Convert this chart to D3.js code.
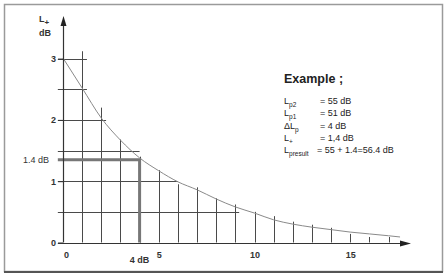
<!DOCTYPE html>
<html>
<head>
<meta charset="utf-8">
<script src="https://cdn.jsdelivr.net/npm/d3@7"></script>
<style>
  body { margin: 0; background: #fff; }
  svg { display: block; font-family: "Liberation Sans", Arial, sans-serif; }
</style>
</head>
<body>
<div id="chart"></div>
<script>
const WIDTH = 446;
const HEIGHT = 276;

// curve L+ (dB), at dL = 0..17 dB
const dL = [0, 1, 2, 3, 4, 5, 6, 7, 8, 9, 10, 11, 12, 13, 14, 15, 16, 17, 17.6];
const lPlus = [3.01, 2.52, 2.03, 1.67, 1.38, 1.17, 0.99, 0.86, 0.71, 0.58, 0.48, 0.37, 0.30, 0.25, 0.21, 0.17, 0.14, 0.11, 0.09];

// vertical grid lines (x) and where each one stops (y)
const vX = [1, 2, 3, 4, 5, 6, 7, 8, 9, 10, 11, 12, 13, 14, 15, 16, 17];
const vTop = [3.12, 2.2, 1.68, 1.4, 1.18, 0.95, 0.9, 0.72, 0.62, 0.5, 0.43, 0.34, 0.29, 0.24, 0.14, 0.09, 0.09];

// horizontal grid lines (y) and where each one stops (x)
const hY = [3, 2.5, 2, 1.5, 1, 0.5];
const hEnd = [1.25, 1.25, 2.25, 4, 6, 9.2];

const xTicks = [0, 5, 10, 15];
const yTicks = [0, 1, 2, 3];

// example readout
const markX = 4;
const markY = 1.35;
const exampleRows = [
  ["L", "p2", "= 55 dB"],
  ["L", "p1", "= 51 dB"],
  ["\u0394L", "p", "= 4 dB"],
  ["L", "+", "= 1,4 dB"],
  ["L", "presult", "= 55 + 1.4=56.4 dB"]
];

const svg = d3.select("#chart").append("svg")
    .attr("width", WIDTH)
    .attr("height", HEIGHT);

// frame
svg.append("rect")
    .attr("x", 4.5).attr("y", 4.5)
    .attr("width", 438).attr("height", 267)
    .attr("fill", "#fff")
    .attr("stroke", "#9a9a9a")
    .attr("stroke-width", 1.5);
svg.append("line")
    .attr("x1", 4).attr("x2", 443)
    .attr("y1", 272).attr("y2", 272)
    .attr("stroke", "#555").attr("stroke-width", 2);

const X_SCALE = d3.scaleLinear().domain([0, 18]).range([63, 63 + 18 * 19.15]);
const Y_SCALE = d3.scaleLinear().domain([0, 3]).range([242.5, 58.6]);

const grid = svg.append("g").attr("stroke", "#4a4a4a").attr("stroke-width", 1);

// horizontal grid
grid.selectAll(".h")
    .data(hY)
    .enter()
    .append("line")
      .attr("x1", X_SCALE(-0.27))
      .attr("x2", (d, i) => X_SCALE(hEnd[i]))
      .attr("y1", d => Math.round(Y_SCALE(d)) + 0.5)
      .attr("y2", d => Math.round(Y_SCALE(d)) + 0.5);

// vertical grid
grid.selectAll(".v")
    .data(vX)
    .enter()
    .append("line")
      .attr("x1", d => Math.round(X_SCALE(d)) + 0.5)
      .attr("x2", d => Math.round(X_SCALE(d)) + 0.5)
      .attr("y1", Y_SCALE(0))
      .attr("y2", (d, i) => Y_SCALE(vTop[i]));

// the curve
const line = d3.line()
    .x((d, i) => X_SCALE(dL[i]))
    .y(d => Y_SCALE(d))
    .curve(d3.curveMonotoneX);
svg.append("path")
    .datum(lPlus)
    .attr("d", line)
    .attr("fill", "none")
    .attr("stroke", "#8a8a8a")
    .attr("stroke-width", 1);

// 1.4 dB / 4 dB readout
svg.append("path")
    .attr("d", "M" + X_SCALE(-0.27) + "," + Y_SCALE(markY)
      + "H" + X_SCALE(markX) + "V" + Y_SCALE(0))
    .attr("fill", "none")
    .attr("stroke", "#777")
    .attr("stroke-width", 3);

// axes
const axisY = svg.append("g")
    .attr("transform", "translate(" + X_SCALE(0) + ",0)")
    .call(d3.axisLeft(Y_SCALE).tickValues(yTicks).tickSize(5).tickPadding(2).tickFormat(d3.format("d")));
const axisX = svg.append("g")
    .attr("transform", "translate(0," + Y_SCALE(0) + ")")
    .call(d3.axisBottom(X_SCALE).tickValues(xTicks).tickSize(0).tickPadding(9).tickFormat(d3.format("d")));
[axisY, axisX].forEach(a => {
  a.select(".domain").remove();
  a.selectAll("line").attr("stroke", "#333");
  a.selectAll("text")
      .attr("font-family", "Liberation Sans, Arial, sans-serif")
      .attr("font-size", 9)
      .attr("font-weight", "bold")
      .attr("fill", "#333");
});
axisX.selectAll(".tick text").filter(d => d === 0).attr("dx", 3);

svg.append("line")
    .attr("x1", X_SCALE(0) + 0.5).attr("x2", X_SCALE(0) + 0.5)
    .attr("y1", Y_SCALE(0)).attr("y2", 24)
    .attr("stroke", "#333").attr("stroke-width", 1.2);
svg.append("path")
    .attr("d", "M" + (X_SCALE(0) + 0.5) + ",16 l-3,10 h6 z")
    .attr("fill", "#222");
svg.append("line")
    .attr("x1", X_SCALE(-0.27)).attr("x2", 402)
    .attr("y1", Math.round(Y_SCALE(0)) + 0.5).attr("y2", Math.round(Y_SCALE(0)) + 0.5)
    .attr("stroke", "#333").attr("stroke-width", 1.2);
svg.append("path")
    .attr("d", "M411," + (Math.round(Y_SCALE(0)) + 0.5) + " l-11,-3 v6 z")
    .attr("fill", "#222");

// axis titles
const lab = svg.append("g")
    .attr("fill", "#333")
    .attr("font-weight", "bold")
    .attr("font-size", 9);
const lp = lab.append("text").attr("x", 39).attr("y", 22);
lp.append("tspan").text("L");
lp.append("tspan").attr("font-size", 8).attr("dy", 3).text("+");
lab.append("text").attr("x", 39).attr("y", 36).text("dB");
lab.append("text").attr("x", 49).attr("y", Y_SCALE(markY) + 3)
    .attr("text-anchor", "end").attr("font-weight", "normal").text("1.4 dB");
lab.append("text").attr("x", X_SCALE(markX)).attr("y", 263)
    .attr("text-anchor", "middle").text("4 dB");

// example box
const ex = svg.append("g").attr("fill", "#222");
ex.append("text")
    .attr("x", 284).attr("y", 83)
    .attr("font-size", 12.5)
    .attr("font-weight", "bold")
    .text("Example ;");
exampleRows.forEach((r, i) => {
  const y = 104 + i * 12.3;
  const t = ex.append("text").attr("x", 284).attr("y", y).attr("font-size", 9);
  t.append("tspan").text(r[0]);
  t.append("tspan").attr("font-size", 6.5).attr("dy", 3).text(r[1]);
  ex.append("text")
      .attr("x", i === 4 ? 317 : 320).attr("y", y)
      .attr("font-size", 9)
      .text(r[2]);
});
</script>
</body>
</html>
